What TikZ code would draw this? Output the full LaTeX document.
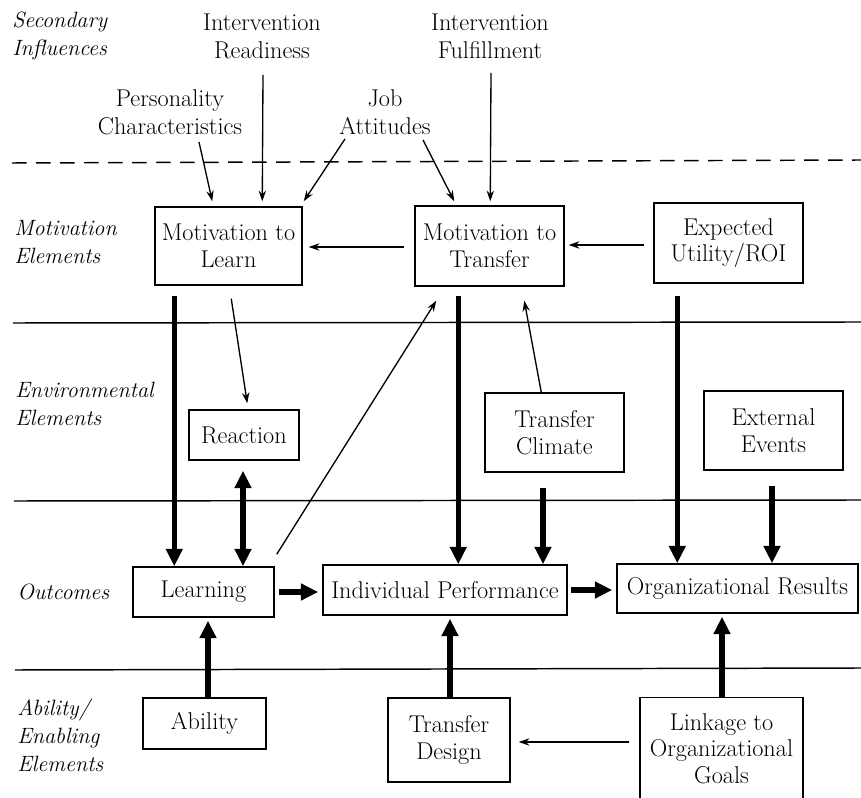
\documentclass[tikz,border=0pt]{standalone}
\usetikzlibrary{arrows.meta,calc}
\begin{document}
\begin{tikzpicture}[x=0.75pt,y=-0.75pt,
  font=\fontsize{18.2}{20}\selectfont,
  box/.style={draw, line width=1.1pt, align=center, inner sep=0pt},
  lbl/.style={align=left, anchor=west, inner sep=0pt, font=\fontsize{16.6}{21}\selectfont\itshape},
  txt/.style={align=center, inner sep=0pt, font=\fontsize{18.2}{21}\selectfont},
  thinarr/.style={line width=1pt, -{Stealth[length=8pt,width=5.5pt]}},
  thk/.style={line width=3.8pt, -{Triangle[length=13pt,width=12pt]}},
  thkboth/.style={line width=3.8pt, {Triangle[length=13pt,width=12pt]}-{Triangle[length=13pt,width=12pt]}},
  rulel/.style={line width=1.1pt}]
\clip (0,0) rectangle (861,798);
\fill[white] (0,0) rectangle (861,798);

% horizontal separators
\draw[rulel, dash pattern=on 11pt off 7pt] (12,163) -- (861,160);
\draw[rulel] (13,323) -- (861,322);
\draw[rulel] (14,501) -- (861,500);
\draw[rulel] (15,670) -- (861,668);

% row labels
\node[lbl] (l1) at (12,36) {Secondary\\Influences};
\node[lbl] (l2) at (14,242) {Motivation\\Elements};
\node[lbl] (l3) at (15,404) {Environmental\\Elements};
\node[lbl] (l4) at (17,592) {Outcomes};
\node[lbl] (l5) at (17,735) {Ability/\\Enabling\\Elements};

% secondary influences
\node[txt] (read) at (262,36) {Intervention\\Readiness};
\node[txt] (fulf) at (490,36) {Intervention\\Fulfillment};
\node[txt] (pers) at (170,112) {Personality\\Characteristics};
\node[txt] (job) at (385,112) {Job\\Attitudes};

% boxes
\node[box, minimum width=110.25pt, minimum height=58.5pt] (mtl) at (228.5,246) {Motivation to\\Learn};
\node[box, minimum width=111.75pt, minimum height=60pt] (mtt) at (489.5,246) {Motivation to\\Transfer};
\node[box, minimum width=111.75pt, minimum height=60pt] (eu) at (728.5,243) {Expected\\Utility/ROI};
\node[box, minimum width=82.5pt, minimum height=37.5pt] (react) at (244,435) {Reaction};
\node[box, minimum width=104.25pt, minimum height=59.25pt] (tc) at (554.5,432.5) {Transfer\\Climate};
\node[box, minimum width=104.25pt, minimum height=59.25pt] (ee) at (773.5,430.5) {External\\Events};
\node[box, minimum width=105.75pt, minimum height=37.5pt] (learn) at (203.5,592) {Learning};
\node[box, minimum width=183pt, minimum height=37.5pt] (ip) at (445,590) {Individual Performance};
\node[box, minimum width=180.75pt, minimum height=36.75pt] (org) at (737.5,588.5) {Organizational Results};
\node[box, minimum width=92.25pt, minimum height=38.25pt] (abil) at (204.5,723.5) {Ability};
\node[box, minimum width=91.5pt, minimum height=63pt] (td) at (449,740) {Transfer\\Design};
\node[box, minimum width=122.25pt, minimum height=90pt, anchor=north] (link) at (721.5,697) {};
\node[txt, font=\fontsize{18.2}{20}\selectfont] (linktext) at (721.5,748.5) {Linkage to\\Organizational\\Goals};

% thin arrows
\draw[thinarr] ($(pers.center)+(29,30)$) -- ($(mtl.north west)+(58,-5)$);
\draw[thinarr] ($(read.center)+(1,39)$) -- ($(mtl.north west)+(108,-5)$);
\draw[thinarr] ($(job.center)+(-40,27)$) -- ($(mtl.north east)+(1,-5)$);
\draw[thinarr] ($(job.center)+(38,28)$) -- ($(mtt.north west)+(40,-4)$);
\draw[thinarr] ($(fulf.center)+(1,37)$) -- ($(mtt.north west)+(76,-4)$);
\draw[thinarr] ($(eu.west)+(-9,2)$) -- ($(mtt.east)+(4,-1)$);
\draw[thinarr] ($(mtt.west)+(-10,1)$) -- ($(mtl.east)+(6,1)$);
\draw[thinarr] ($(mtl.south west)+(77,13)$) -- ($(react.north west)+(59,-6)$);
\draw[thinarr] ($(learn.north east)+(2,-12)$) -- ($(mtt.south west)+(22,14)$);
\draw[thinarr] ($(tc.north west)+(57,0)$) -- ($(mtt.south west)+(110,14)$);
\draw[thinarr] ($(link.north west)+(-10,45)$) -- ($(td.east)+(8,2)$);

% thick arrows (vertical ones kept exactly vertical)
\coordinate (s1) at ($(mtl.south west)+(20,10)$);
\draw[thk] (s1) -- (s1 |- learn.north);
\coordinate (s2) at ($(react.south)+(-1,10)$);
\draw[thkboth] (s2) -- (s2 |- learn.north);
\coordinate (s3) at ($(mtt.south west)+(44,9)$);
\draw[thk] (s3) -- (s3 |- ip.north);
\coordinate (s4) at ($(tc.south)+(-11.5,15)$);
\draw[thk] (s4) -- (s4 |- ip.north);
\coordinate (s5) at ($(eu.south west)+(24,12)$);
\draw[thk] (s5) -- (s5 |- org.north);
\coordinate (s6) at ($(ee.south)+(-1.5,15)$);
\draw[thk] (s6) -- (s6 |- org.north);
\draw[thk] ($(learn.east)+(4,0)$) -- ($(learn.east -| ip.west)+(-4,0)$);
\draw[thk] ($(ip.east)+(3,0)$) -- ($(ip.east -| org.west)+(-4,0)$);
\coordinate (s9) at ($(abil.north)+(3.5,0)$);
\draw[thk] (s9) -- ($(s9 |- learn.south)+(0,3)$);
\coordinate (s10) at ($(td.north)+(1,0)$);
\draw[thk] (s10) -- ($(s10 |- ip.south)+(0,3)$);
\coordinate (s11) at ($(link.north)+(0.5,0)$);
\draw[thk] (s11) -- ($(s11 |- org.south)+(0,3)$);
\end{tikzpicture}
\end{document}
